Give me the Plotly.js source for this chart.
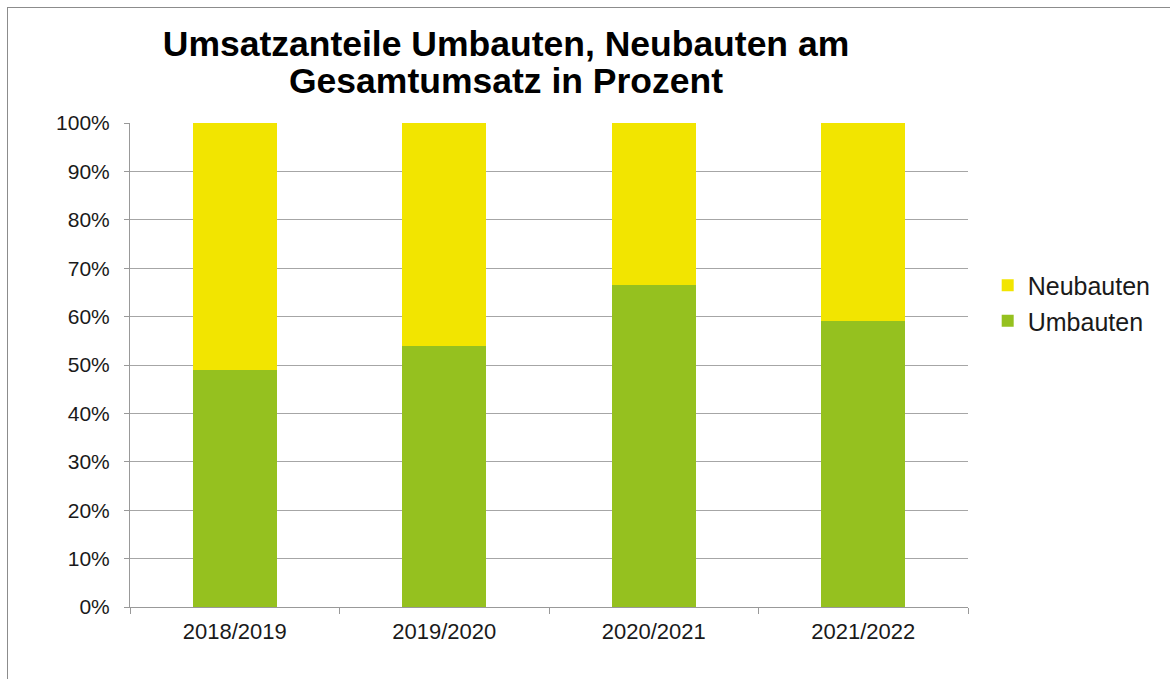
<!DOCTYPE html>
<html><head><meta charset="utf-8">
<script src="https://cdn.plot.ly/plotly-3.0.1.min.js"></script>
<style>
html,body{margin:0;padding:0;background:#fff;}
#frame{position:absolute;left:7px;top:7px;width:1200px;height:700px;border-left:1px solid #8c8c8c;border-top:1px solid #8c8c8c;}
#chart{position:absolute;left:0;top:0;width:1170px;height:679px;}
</style></head>
<body>
<div id="frame"></div>
<div id="chart"></div>
<script>
const categories = ["2018/2019", "2019/2020", "2020/2021", "2021/2022"];
const umbauten = [49.0, 53.9, 66.6, 59.1];
const neubauten = umbauten.map(v => 100 - v);
const yTickVals = [0,10,20,30,40,50,60,70,80,90,100];
const yTickText = yTickVals.map(v => v + "%");
const titleLine1 = "Umsatzanteile Umbauten, Neubauten am";
const titleLine2 = "Gesamtumsatz in Prozent";

const traces = [
  {type:"bar", name:"Umbauten", x:categories, y:umbauten, marker:{color:"#95C11F"}, legendgroup:"u"},
  {type:"bar", name:"Neubauten", x:categories, y:neubauten, marker:{color:"#F2E500"}, legendgroup:"n"}
];
const layout = {
  width:1170, height:679,
  margin:{l:130, r:202, t:123, b:72, autoexpand:false},
  paper_bgcolor:"rgba(0,0,0,0)", plot_bgcolor:"rgba(0,0,0,0)",
  barmode:"stack", bargap:0.6,
  font:{family:"Liberation Sans, Arial, sans-serif", color:"#1a1a1a"},
  title:{text:"<b>" + titleLine1 + "</b>", x:506/1170, xref:"container", xanchor:"center", y:1-44/679, yref:"container", yanchor:"middle", font:{size:35.5, color:"#000"}},
  annotations:[{text:"<b>" + titleLine2 + "</b>", xref:"paper", yref:"paper", x:(506-130)/838, y:1+(123-81)/484, xanchor:"center", yanchor:"middle", showarrow:false, font:{size:35.5, color:"#000"}}],
  xaxis:{type:"category", showline:true, linecolor:"#999", linewidth:1, ticks:"outside", tickson:"boundaries", ticklen:6, tickcolor:"#999", tickfont:{size:22, color:"#1a1a1a"}, ticklabelstandoff:5, showgrid:false, fixedrange:true},
  yaxis:{range:[0,100], tickvals:yTickVals, ticktext:yTickText, showline:true, linecolor:"#999", linewidth:1, ticks:"outside", ticklen:5, tickcolor:"#999", showgrid:true, gridcolor:"#a6a6a6", gridwidth:1, zeroline:false, tickfont:{size:21, color:"#1a1a1a"}, ticklabelstandoff:10, fixedrange:true},
  legend:{x:1.0235, xanchor:"left", y:0.628, yanchor:"middle", traceorder:"reversed", tracegroupgap:6, font:{size:25, color:"#1a1a1a"}, itemwidth:30, bgcolor:"rgba(0,0,0,0)"},
  showlegend:true
};
Plotly.newPlot("chart", traces, layout, {displayModeBar:false, staticPlot:true});
</script>
</body></html>
